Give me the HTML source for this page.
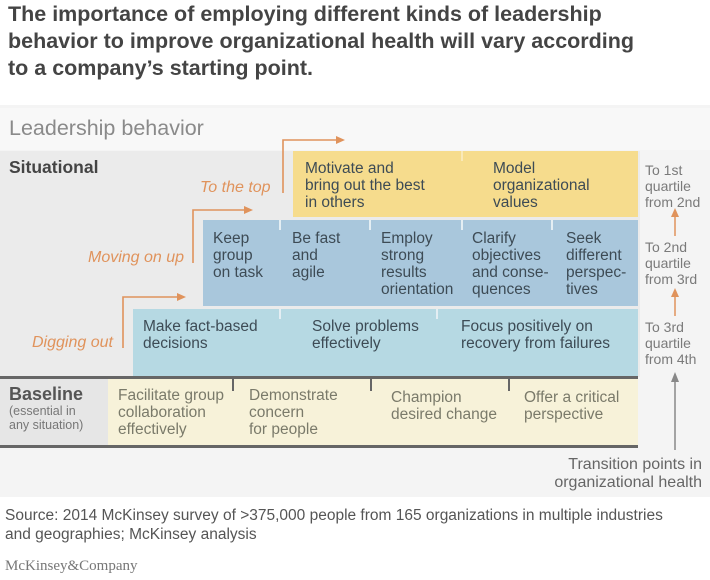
<!DOCTYPE html>
<html><head><meta charset="utf-8">
<style>
body{margin:0;width:710px;height:580px;background:#fff;font-family:"Liberation Sans",Arial,sans-serif;position:relative;overflow:hidden}
.a{position:absolute}
.t{font-size:15.5px;line-height:17px;color:#3d4b55;white-space:nowrap}
.o{color:#e0935c;font-style:italic;font-size:16px}
.r{font-size:14px;line-height:16px;color:#7a7a7a}
.dv{position:absolute;width:2px;background:#e4eef3}
</style></head><body>
<div class="a" style="left:8px;top:1px;font-size:21.5px;font-weight:bold;line-height:27px;color:#444;white-space:nowrap">The importance of employing different kinds of leadership<br>behavior to improve organizational health will vary according<br>to a company’s starting point.</div>

<div class="a" style="left:0;top:105px;width:710px;height:392px;background:#f4f4f4"></div>
<div class="a" style="left:0;top:108px;width:710px;height:42px;background:#f8f8f8"></div>
<div class="a" style="left:9px;top:116px;font-size:21.5px;color:#8a8a8a">Leadership behavior</div>
<div class="a" style="left:0;top:151px;width:640px;height:226px;background:#ebebeb"></div>
<div class="a" style="left:9px;top:157px;font-size:17.5px;font-weight:bold;color:#444">Situational</div>

<div class="a" style="left:293px;top:151px;width:345px;height:66px;background:#f6dc8d"></div>
<div class="dv" style="left:461px;top:151px;height:10px;background:#f9e9b8"></div>
<div class="a t" style="left:305px;top:160px">Motivate and<br>bring out the best<br>in others</div>
<div class="a t" style="left:493px;top:160px">Model<br>organizational<br>values</div>

<div class="a" style="left:203px;top:220px;width:435px;height:86px;background:#a9c7dc"></div>
<div class="dv" style="left:279px;top:220px;height:10px"></div>
<div class="dv" style="left:369px;top:220px;height:10px"></div>
<div class="dv" style="left:461px;top:220px;height:10px"></div>
<div class="dv" style="left:551px;top:220px;height:10px"></div>
<div class="a t" style="left:213px;top:230px">Keep<br>group<br>on task</div>
<div class="a t" style="left:292px;top:230px">Be fast<br>and<br>agile</div>
<div class="a t" style="left:381px;top:230px">Employ<br>strong<br>results<br>orientation</div>
<div class="a t" style="left:472px;top:230px">Clarify<br>objectives<br>and conse-<br>quences</div>
<div class="a t" style="left:566px;top:230px">Seek<br>different<br>perspec-<br>tives</div>

<div class="a" style="left:133px;top:309px;width:505px;height:67px;background:#b6d9e3"></div>
<div class="dv" style="left:279px;top:309px;height:10px"></div>
<div class="dv" style="left:436px;top:309px;height:10px"></div>
<div class="a t" style="left:143px;top:318px">Make fact-based<br>decisions</div>
<div class="a t" style="left:312px;top:318px">Solve problems<br>effectively</div>
<div class="a t" style="left:461px;top:318px">Focus positively on<br>recovery from failures</div>

<div class="a" style="left:0;top:376px;width:638px;height:3px;background:#666"></div>
<div class="a" style="left:0;top:379px;width:638px;height:66px;background:#e6e6e6"></div>
<div class="a" style="left:108px;top:379px;width:530px;height:66px;background:#f7f2d9"></div>
<div class="a" style="left:232px;top:379px;width:2px;height:12px;background:#666"></div>
<div class="a" style="left:370px;top:379px;width:2px;height:12px;background:#666"></div>
<div class="a" style="left:508px;top:379px;width:2px;height:12px;background:#666"></div>
<div class="a" style="left:0;top:445px;width:638px;height:3px;background:#666"></div>
<div class="a" style="left:9px;top:384px;font-size:18px;font-weight:bold;color:#555">Baseline</div>
<div class="a" style="left:9px;top:404px;font-size:12.5px;line-height:14px;color:#777">(essential in<br>any situation)</div>
<div class="a t" style="left:118px;top:387px;color:#7a7a6a">Facilitate group<br>collaboration<br>effectively</div>
<div class="a t" style="left:249px;top:387px;color:#7a7a6a">Demonstrate<br>concern<br>for people</div>
<div class="a t" style="left:391px;top:389px;color:#7a7a6a">Champion<br>desired change</div>
<div class="a t" style="left:524px;top:389px;color:#7a7a6a">Offer a critical<br>perspective</div>

<svg class="a" style="left:0;top:0" width="710" height="500">
<g stroke="#e0935c" stroke-width="1.6" fill="none">
<path d="M123 348V297H178"/><path d="M193 263V210H245"/><path d="M283 193V140H337"/>
</g>
<g fill="#e0935c"><path d="M186 297l-9-4v8z"/><path d="M253 210l-9-4v8z"/><path d="M345 140l-9-4v8z"/>
<path d="M675 208l-4 9h8z"/><path d="M675 288l-4 9h8z"/></g>
<g stroke="#e0935c" stroke-width="1.5"><path d="M675 216V236"/><path d="M675 296V316"/></g>
<path d="M675 382V450" stroke="#888" stroke-width="1.5"/><path d="M675 372l-4 10h8z" fill="#888"/>
</svg>
<div class="a o" style="left:200px;top:179px">To the top</div>
<div class="a o" style="left:88px;top:249px">Moving on up</div>
<div class="a o" style="left:32px;top:334px">Digging out</div>

<div class="a r" style="left:645px;top:162px">To 1st<br>quartile<br>from 2nd</div>
<div class="a r" style="left:645px;top:239px">To 2nd<br>quartile<br>from 3rd</div>
<div class="a r" style="left:645px;top:319px">To 3rd<br>quartile<br>from 4th</div>
<div class="a" style="right:8px;top:456px;text-align:right;font-size:16px;line-height:18px;color:#666">Transition points in<br>organizational health</div>

<div class="a" style="left:5px;top:506px;font-size:15.5px;line-height:19px;color:#555;white-space:nowrap">Source: 2014 McKinsey survey of &gt;375,000 people from 165 organizations in multiple industries<br>and geographies; McKinsey analysis</div>
<div class="a" style="left:5px;top:558px;font-family:'Liberation Serif',serif;font-size:15px;color:#777">McKinsey&amp;Company</div>
</body></html>
